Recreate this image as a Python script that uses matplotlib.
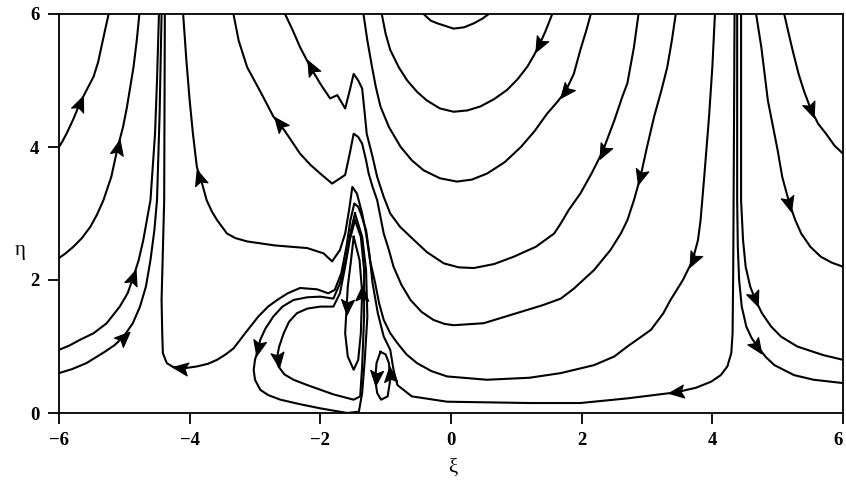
import numpy as np
import matplotlib
matplotlib.use('Agg')
import matplotlib.pyplot as plt
from matplotlib.markers import MarkerStyle
from matplotlib.path import Path
from matplotlib.transforms import Affine2D

plt.rcParams['font.family'] = ['Liberation Serif', 'DejaVu Serif']

# streamlines: xi, eta pairs
# arrows: (xi, eta, sense) sense +1 = along the list order, -1 = against it

# left-hand lines running up to the top
s1_xi = [-6.0, -5.95, -5.88, -5.78, -5.68, -5.57, -5.47, -5.4, -5.35, -5.29, -5.24]
s1_eta = [4.0, 4.08, 4.21, 4.42, 4.66, 4.87, 5.06, 5.28, 5.51, 5.78, 6.0]
s1_arr = [(-5.68, 4.66, 1)]

s2_xi = [-6.0, -5.9, -5.78, -5.65, -5.52, -5.42, -5.32, -5.2, -5.1, -5.02, -4.96, -4.86, -4.81, -4.77]
s2_eta = [2.33, 2.4, 2.5, 2.63, 2.8, 2.98, 3.2, 3.55, 4.0, 4.3, 4.6, 5.2, 5.6, 6.0]
s2_arr = [(-5.1, 4.0, 1)]

s3_xi = [-6.0, -5.85, -5.68, -5.47, -5.27, -5.07, -4.95, -4.86, -4.78, -4.71, -4.6, -4.53, -4.5, -4.47]
s3_eta = [0.95, 1.01, 1.1, 1.2, 1.35, 1.6, 1.8, 2.05, 2.3, 2.6, 3.2, 4.2, 5.0, 6.0]
s3_arr = [(-4.86, 2.05, 1)]

s4_xi = [-6.0, -5.8, -5.58, -5.3, -5.15, -5.01, -4.87, -4.76, -4.67, -4.6, -4.54, -4.5, -4.46, -4.43]
s4_eta = [0.6, 0.66, 0.75, 0.92, 1.02, 1.15, 1.35, 1.6, 1.9, 2.3, 2.75, 3.2, 4.5, 6.0]
s4_arr = [(-5.01, 1.15, 1)]

# dividing line: down at xi=-4.4, over the spike, along the floor, up at xi=4.3
s5_xi = [-4.38, -4.39, -4.43, -4.42, -4.41, -4.35, -4.25, -4.1, -3.89, -3.72, -3.58,
         -3.45, -3.33, -3.15, -2.95, -2.8, -2.66, -2.5, -2.31, -2.05, -1.88, -1.78,
         -1.68, -1.6, -1.54, -1.48, -1.42, -1.38, -1.3, -1.25, -1.2, -1.12, -1.03,
         -0.93, -0.88, -0.82, -0.6, -0.06, 1.2, 1.98, 2.7, 3.44, 3.75, 3.98, 4.13,
         4.23, 4.29, 4.31, 4.32, 4.33, 4.34]
s5_eta = [6.0, 3.2, 1.7, 1.2, 0.9, 0.75, 0.69, 0.67, 0.7, 0.74, 0.8,
          0.88, 0.97, 1.2, 1.45, 1.6, 1.7, 1.8, 1.88, 1.86, 1.8, 1.85,
          2.1, 2.5, 2.9, 3.15, 3.1, 3.0, 2.75, 2.4, 1.95, 1.5, 1.15,
          0.95, 0.65, 0.42, 0.25, 0.17, 0.15, 0.15, 0.22, 0.31, 0.38, 0.47, 0.57,
          0.7, 0.9, 1.2, 2.2, 4.0, 6.0]
s5_arr = [(-4.15, 0.67, -1), (3.44, 0.31, -1)]

# lines coming down from the upper left, over the spike and round under the U's
m1_xi = [-4.1, -4.05, -4.0, -3.95, -3.89, -3.81, -3.74, -3.66, -3.58, -3.43, -3.3,
         -3.12, -2.7, -2.2, -1.95, -1.82, -1.7, -1.62, -1.56, -1.51, -1.44, -1.36,
         -1.3, -1.24, -1.16, -1.1, -1.03, -0.93, -0.82, -0.68, -0.52, -0.3, -0.06,
         0.55, 1.2, 1.68, 2.19, 2.5, 2.7, 3.06, 3.25, 3.36, 3.55, 3.7, 3.78, 3.82,
         3.88, 3.95, 4.0, 4.04]
m1_eta = [6.0, 5.3, 4.7, 4.2, 3.7, 3.45, 3.2, 3.03, 2.9, 2.7, 2.63,
          2.58, 2.52, 2.48, 2.4, 2.28, 2.45, 2.7, 3.05, 3.4, 3.3, 3.0,
          2.7, 2.3, 1.95, 1.65, 1.4, 1.2, 1.05, 0.88, 0.75, 0.63, 0.55,
          0.5, 0.53, 0.6, 0.72, 0.85, 1.0, 1.25, 1.5, 1.7, 2.0, 2.3, 2.6, 2.9,
          3.6, 4.46, 5.2, 6.0]
m1_arr = [(-3.85, 3.55, -1), (3.7, 2.3, -1)]

m2_xi = [-3.33, -3.25, -3.12, -2.9, -2.72, -2.55, -2.31, -2.15, -2.0, -1.82, -1.62,
         -1.55, -1.49, -1.42, -1.36, -1.3, -1.26, -1.2, -1.13, -1.03, -0.95, -0.88,
         -0.76, -0.62, -0.45, -0.27, -0.1, 0.04, 0.5, 1.0, 1.4, 1.68, 1.88, 2.19,
         2.44, 2.6, 2.7, 2.8, 2.9, 3.0, 3.11, 3.22, 3.31, 3.38, 3.44]
m2_eta = [6.0, 5.6, 5.2, 4.8, 4.46, 4.25, 3.9, 3.73, 3.6, 3.45, 3.58,
          3.9, 4.2, 4.15, 4.05, 3.8, 3.6, 3.4, 3.2, 2.7, 2.45, 2.2,
          1.93, 1.7, 1.52, 1.4, 1.34, 1.32, 1.35, 1.5, 1.62, 1.72, 1.87, 2.15,
          2.45, 2.7, 2.9, 3.2, 3.55, 4.0, 4.46, 4.85, 5.2, 5.6, 6.0]
m2_arr = [(-2.64, 4.36, -1), (2.9, 3.55, -1)]

m3_xi = [-2.54, -2.42, -2.31, -2.15, -2.0, -1.85, -1.74, -1.62, -1.55, -1.49, -1.42,
         -1.36, -1.32, -1.29, -1.2, -1.13, -1.03, -0.93, -0.78, -0.62, -0.37, -0.11,
         0.12, 0.35, 0.66, 0.96, 1.3, 1.58, 1.68, 1.8, 1.98, 2.15, 2.32, 2.5, 2.62,
         2.7, 2.8, 2.87]
m3_eta = [6.0, 5.75, 5.5, 5.2, 4.95, 4.73, 4.78, 4.58, 4.85, 5.1, 5.0,
          4.88, 4.5, 4.2, 3.85, 3.55, 3.25, 3.0, 2.8, 2.65, 2.42, 2.25,
          2.19, 2.18, 2.24, 2.35, 2.5, 2.7, 2.85, 3.05, 3.3, 3.6, 3.93, 4.4, 4.75,
          4.96, 5.5, 6.0]
m3_arr = [(-2.15, 5.2, -1), (2.32, 3.93, -1)]

# U-shaped lines hanging from the top
u3_xi = [-1.34, -1.28, -1.21, -1.15, -1.08, -0.95, -0.77, -0.6, -0.42, -0.17, 0.09,
         0.32, 0.55, 0.82, 1.07, 1.28, 1.47, 1.62, 1.75, 1.88, 1.98, 2.07, 2.14]
u3_eta = [6.0, 5.6, 5.21, 4.9, 4.61, 4.3, 4.0, 3.8, 3.65, 3.53, 3.48,
          3.51, 3.6, 3.77, 4.0, 4.24, 4.5, 4.67, 4.83, 5.1, 5.46, 5.75, 6.0]
u3_arr = [(1.75, 4.83, -1)]

u2_xi = [-1.06, -1.0, -0.93, -0.8, -0.67, -0.52, -0.37, -0.17, 0.04, 0.25, 0.45,
         0.66, 0.86, 1.02, 1.17, 1.27, 1.35, 1.45, 1.55]
u2_eta = [6.0, 5.7, 5.46, 5.2, 5.0, 4.83, 4.7, 4.58, 4.53, 4.55, 4.61,
          4.72, 4.86, 5.02, 5.21, 5.38, 5.53, 5.75, 6.0]
u2_arr = [(1.35, 5.53, -1)]

u1_xi = [-0.42, -0.31, -0.21, 0.04, 0.2, 0.35, 0.48, 0.58]
u1_eta = [6.0, 5.9, 5.86, 5.78, 5.8, 5.86, 5.93, 6.0]
u1_arr = []

# right-hand lines
rb1_xi = [4.44, 4.44, 4.47, 4.51, 4.58, 4.66, 4.76, 4.9, 5.05, 5.3, 5.7, 6.0]
rb1_eta = [6.0, 3.2, 2.6, 2.2, 1.9, 1.7, 1.5, 1.3, 1.15, 1.0, 0.87, 0.8]
rb1_arr = [(4.66, 1.72, 1)]

rb2_xi = [4.38, 4.38, 4.39, 4.41, 4.45, 4.52, 4.6, 4.69, 4.82, 4.95, 5.25, 5.55, 6.0]
rb2_eta = [6.0, 3.2, 2.5, 2.0, 1.6, 1.3, 1.13, 1.0, 0.84, 0.72, 0.57, 0.5, 0.45]
rb2_arr = [(4.69, 1.0, 1)]

r1_xi = [4.67, 4.75, 4.85, 4.93, 5.0, 5.07, 5.18, 5.27, 5.36, 5.5, 5.66, 5.83, 6.0]
r1_eta = [6.0, 5.5, 4.7, 4.3, 3.95, 3.55, 3.15, 2.9, 2.7, 2.5, 2.35, 2.26, 2.2]
r1_arr = [(5.18, 3.15, 1)]

r0_xi = [5.1, 5.17, 5.23, 5.32, 5.4, 5.51, 5.62, 5.74, 5.87, 6.0]
r0_eta = [6.0, 5.7, 5.45, 5.1, 4.85, 4.56, 4.35, 4.2, 4.02, 3.9]
r0_arr = [(5.51, 4.56, 1)]

# closed eddies
la_xi = [-1.47, -1.53, -1.6, -1.7, -1.8, -2.0, -2.2, -2.41, -2.58, -2.72, -2.84,
         -2.92, -2.95, -3.0, -3.02, -3.0, -2.92, -2.8, -2.61, -2.3, -2.0, -1.59,
         -1.41, -1.36, -1.32, -1.28, -1.3, -1.36, -1.47]
la_eta = [3.0, 2.75, 2.35, 1.95, 1.72, 1.75, 1.74, 1.7, 1.6, 1.45, 1.27,
          1.1, 0.97, 0.8, 0.65, 0.5, 0.35, 0.27, 0.2, 0.13, 0.07, 0.0,
          0.02, 0.3, 0.8, 1.45, 2.15, 2.65, 3.0]
la_arr = [(-2.95, 0.97, 1)]

lb_xi = [-1.47, -1.55, -1.62, -1.7, -1.8, -2.0, -2.2, -2.36, -2.48, -2.56, -2.63,
         -2.66, -2.64, -2.55, -2.41, -2.2, -2.0, -1.8, -1.49, -1.39, -1.36, -1.33,
         -1.33, -1.38, -1.47]
lb_eta = [2.9, 2.6, 2.2, 1.8, 1.6, 1.6, 1.57, 1.5, 1.37, 1.2, 1.0,
          0.85, 0.7, 0.58, 0.5, 0.42, 0.35, 0.28, 0.2, 0.25, 0.7, 1.45,
          2.15, 2.65, 2.9]
lb_arr = [(-2.65, 0.8, 1)]

lc_xi = [-1.49, -1.53, -1.58, -1.6, -1.62, -1.58, -1.49, -1.42, -1.38, -1.36, -1.4, -1.49]
lc_eta = [2.65, 2.3, 1.9, 1.55, 1.2, 0.85, 0.65, 0.8, 1.2, 1.82, 2.3, 2.65]
lc_arr = [(-1.59, 1.6, 1), (-1.36, 1.8, 1)]

ld_xi = [-1.08, -1.14, -1.16, -1.13, -1.07, -0.97, -0.93, -0.95, -1.0, -1.08]
ld_eta = [0.92, 0.75, 0.5, 0.3, 0.2, 0.25, 0.5, 0.75, 0.88, 0.92]
ld_arr = [(-1.15, 0.52, 1), (-0.93, 0.58, 1)]

lines = [
    (s1_xi, s1_eta, s1_arr), (s2_xi, s2_eta, s2_arr), (s3_xi, s3_eta, s3_arr),
    (s4_xi, s4_eta, s4_arr), (s5_xi, s5_eta, s5_arr),
    (m1_xi, m1_eta, m1_arr), (m2_xi, m2_eta, m2_arr), (m3_xi, m3_eta, m3_arr),
    (u1_xi, u1_eta, u1_arr), (u2_xi, u2_eta, u2_arr), (u3_xi, u3_eta, u3_arr),
    (rb1_xi, rb1_eta, rb1_arr), (rb2_xi, rb2_eta, rb2_arr),
    (r1_xi, r1_eta, r1_arr), (r0_xi, r0_eta, r0_arr),
    (la_xi, la_eta, la_arr), (lb_xi, lb_eta, lb_arr),
    (lc_xi, lc_eta, lc_arr), (ld_xi, ld_eta, ld_arr),
]

xticks = [-6, -4, -2, 0, 2, 4, 6]
yticks = [0, 2, 4, 6]

fig = plt.figure(figsize=(8.46, 4.91), dpi=100)
ax = fig.add_axes([59 / 846, 78 / 491, 784 / 846, 399 / 491])
ax.set_xlim(-6, 6)
ax.set_ylim(0, 6)

# arrow head shape, pointing along +x
head = Path([(1, 0), (-1, 0.85), (-0.6, 0), (-1, -0.85), (1, 0)],
            [Path.MOVETO, Path.LINETO, Path.LINETO, Path.LINETO, Path.CLOSEPOLY])


def put_arrow(xs, ys, a):
    ax_, ay_, sense = a
    pts = ax.transData.transform(np.column_stack([xs, ys]))
    p = ax.transData.transform((ax_, ay_))
    best, seg = 1e9, 0
    for i in range(len(pts) - 1):
        d = pts[i + 1] - pts[i]
        t = np.clip(np.dot(p - pts[i], d) / max(np.dot(d, d), 1e-9), 0, 1)
        dist = np.hypot(*(pts[i] + t * d - p))
        if dist < best:
            best, seg = dist, i
    d = (pts[seg + 1] - pts[seg]) * sense
    ang = np.arctan2(d[1], d[0])
    m = MarkerStyle(head, transform=Affine2D().rotate(ang))
    ax.plot(ax_, ay_, marker=m, ms=11, color='k', mec='k', mew=0.8, zorder=3, clip_on=False)


for xs, ys, arrs in lines:
    ax.plot(xs, ys, color='k', lw=1.5, solid_joinstyle='round')
    for a in arrs:
        put_arrow(xs, ys, a)

ax.set_xticks(xticks)
ax.set_yticks(yticks)
ax.tick_params(direction='out', length=8, width=1.3, labelsize=13.5, pad=6)
for lab in ax.get_xticklabels() + ax.get_yticklabels():
    lab.set_fontweight('bold')
# last label sits on the figure edge, keep it inside
ax.get_xticklabels()[-1].set_horizontalalignment('right')
ax.get_xticklabels()[-1].set_x(6.04)
for sp in ax.spines.values():
    sp.set_linewidth(1.3)

fig.text(453 / 846, 1 - 468 / 491, 'ξ', ha='center', va='center', fontsize=15)
fig.text(20 / 846, 1 - 250 / 491, 'η', ha='center', va='center', fontsize=15)

fig.savefig('out.png', dpi=100)
